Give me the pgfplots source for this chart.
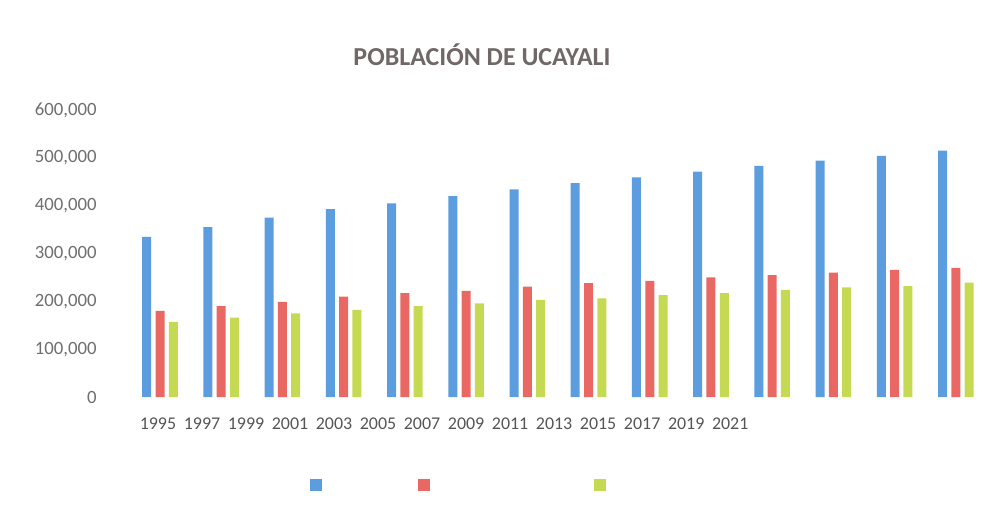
\documentclass[border=0pt]{standalone}
\usepackage{fontspec}
\setmainfont{Carlito}
\usepackage{pgfplots}
\pgfplotsset{compat=1.18}
\definecolor{cblue}{RGB}{91,157,222}
\definecolor{cred}{RGB}{234,104,100}
\definecolor{cgreen}{RGB}{197,218,82}
\definecolor{ctitle}{RGB}{112,104,102}
\definecolor{cxtick}{RGB}{85,85,85}
\definecolor{cytick}{RGB}{110,110,110}
\begin{document}
\begin{tikzpicture}[x=1bp,y=1bp]
\useasboundingbox (0,0) rectangle (500.5,264);
\begin{axis}[
  at={(57.5bp,65.5bp)}, anchor=south west,
  scale only axis, width=440bp, height=143.5bp,
  xmin=-0.735, xmax=13.64, ymin=0, ymax=600000,
  ybar=2.15bp, bar width=4.5bp,
  axis line style={draw=none}, major tick length=0pt,
  ytick={0,100000,200000,300000,400000,500000,600000},
  scaled y ticks=false,
  yticklabel style={/pgf/number format/fixed, /pgf/number format/1000 sep={,},
    /pgf/number format/assume math mode=true,
    anchor=east, inner sep=0pt, xshift=-9bp,
    font=\fontsize{9.4}{11}\selectfont, text=cytick},
  xtick={-0.033,0.686,1.405,2.124,2.843,3.562,4.281,5.000,5.719,6.438,7.157,7.876,8.595,9.314},
  xticklabels={1995,1997,1999,2001,2003,2005,2007,2009,2011,2013,2015,2017,2019,2021},
  xticklabel style={anchor=north, inner sep=0pt, yshift=-10bp,
    font=\fontsize{9}{11}\selectfont, text=cxtick},
  legend columns=3,
  legend image code/.code={\fill (0bp,-3bp) rectangle (6bp,3bp);},
  legend style={at={(0.2216,-0.3066)}, anchor=west, draw=none, fill=none,
    inner sep=0pt, outer sep=0pt, nodes={inner sep=0pt},
    /tikz/every even column/.append style={column sep=0pt},
    /tikz/every odd column/.append style={column sep=0pt}},
]
\addplot[fill=cblue, draw=none] coordinates {
(0,335000) (1,355000) (2,375000) (3,393000) (4,405000) (5,420000) (6,434000)
(7,447000) (8,459000) (9,471000) (10,483000) (11,494000) (12,504000) (13,515000)};
\addlegendentry{\makebox[48bp]{}}
\addplot[fill=cred, draw=none] coordinates {
(0,180000) (1,190000) (2,199000) (3,210000) (4,217000) (5,222000) (6,231000)
(7,238000) (8,243000) (9,250000) (10,255000) (11,260000) (12,266000) (13,270000)};
\addlegendentry{\makebox[82bp]{}}
\addplot[fill=cgreen, draw=none] coordinates {
(0,157000) (1,166000) (2,175000) (3,182000) (4,190000) (5,196000) (6,203000)
(7,206000) (8,213000) (9,217000) (10,224000) (11,229000) (12,232000) (13,239000)};
\addlegendentry{\makebox[1bp]{}}
\end{axis}
\node[font=\fontsize{13}{15}\selectfont\bfseries, text=ctitle] at (241,236.5) {POBLACIÓN DE UCAYALI};
\end{tikzpicture}
\end{document}
